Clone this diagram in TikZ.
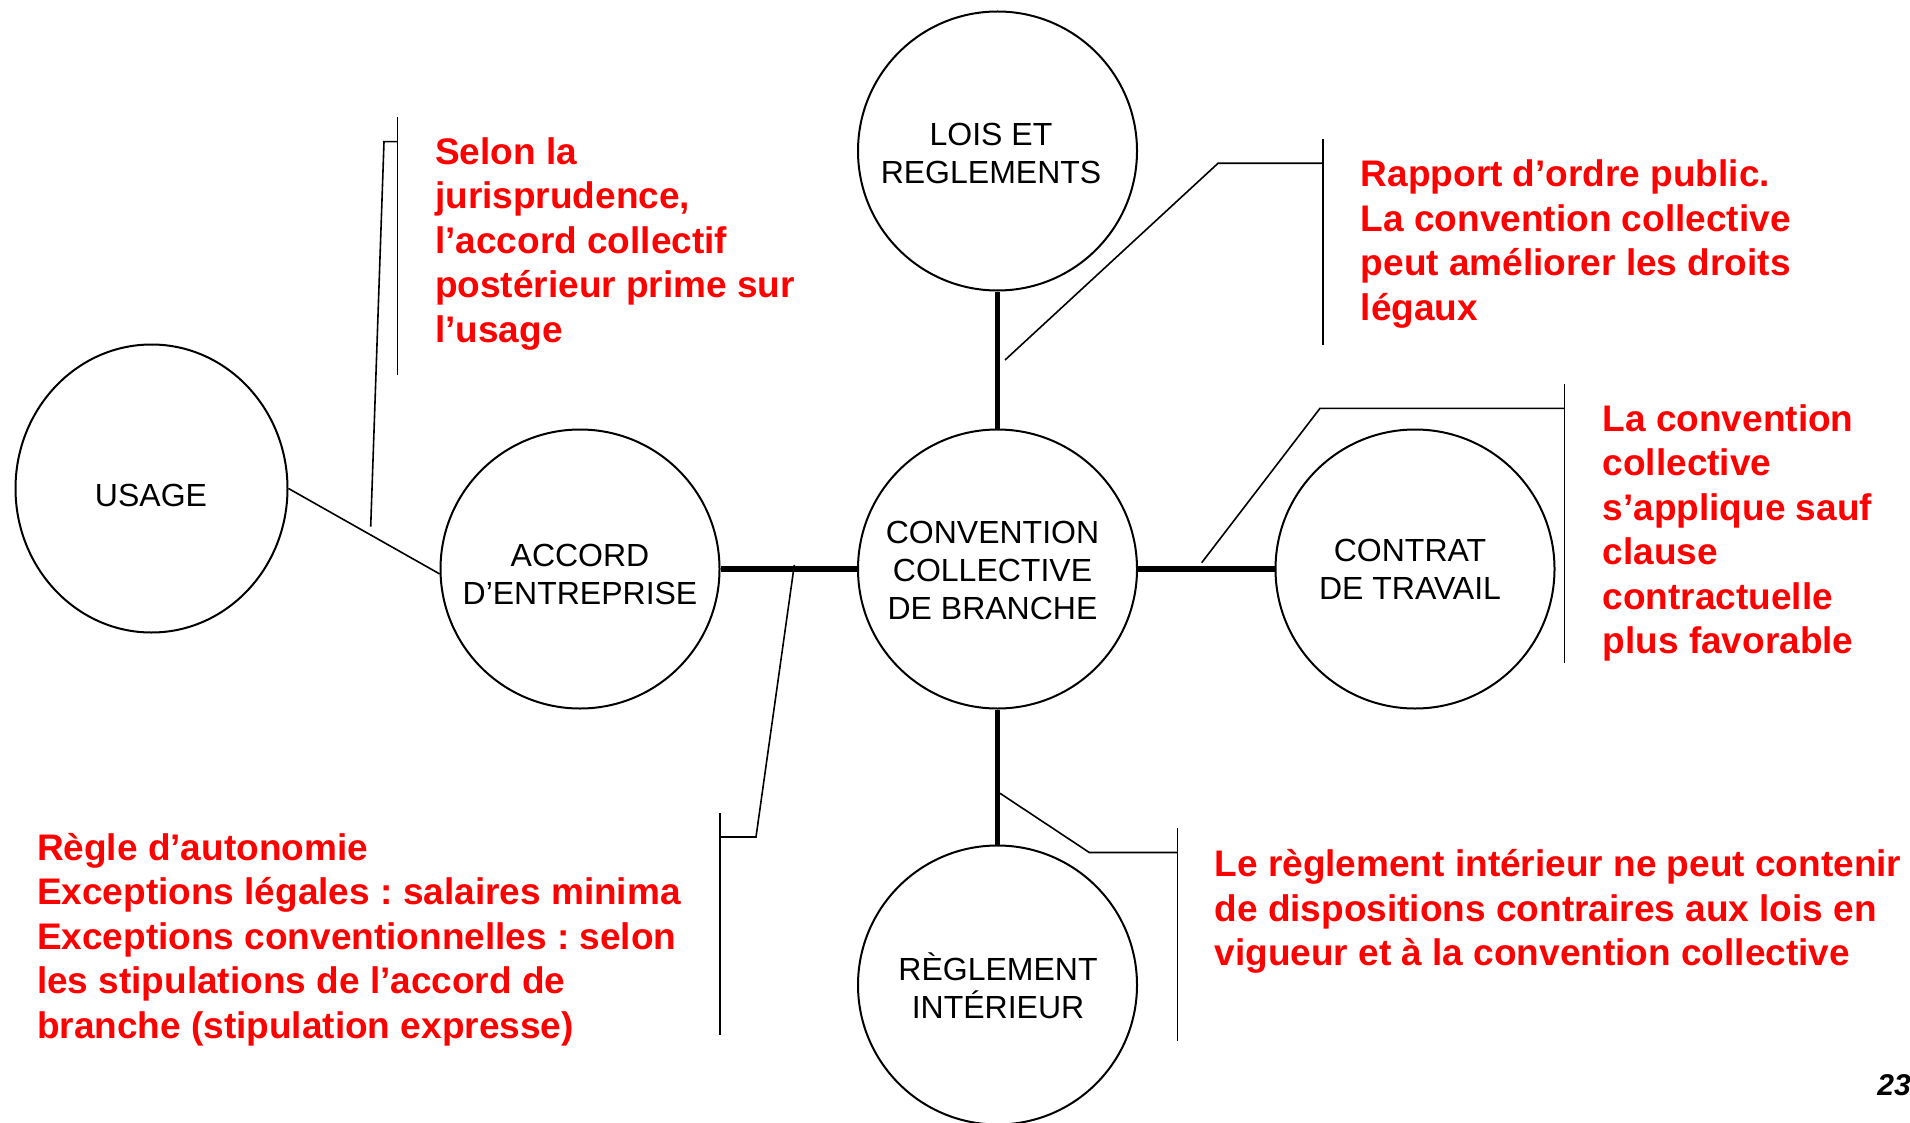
\documentclass[tikz,border=0pt]{standalone}
\usepackage{fontspec}
\setmainfont{Liberation Sans}
\usetikzlibrary{shapes.geometric}
\definecolor{callred}{RGB}{255,0,0}
\frenchspacing
\begin{document}
\begin{tikzpicture}[x=1pt,y=-1pt,
  circ/.style={circle,draw,line width=2pt,minimum size=279pt,inner sep=0pt},
  ctext/.style={anchor=north,inner sep=0pt,align=center,font=\fontsize{32}{38}\selectfont},
  note/.style={anchor=north west,inner sep=0pt,align=left,text=callred,font=\bfseries\fontsize{37}{44.5}\selectfont},
  thickc/.style={line width=5.5pt},
  thinc/.style={line width=1.6pt}]
\useasboundingbox (0,0) rectangle (1910,1123);
\fill[white] (0,0) rectangle (1910,1123);

% circles
\node[circ] (lois) at (997.5,151) {};
\node[circ] (conv) at (997.5,569) {};
\node[circ] (accord) at (580,569) {};
\node[circ] (contrat) at (1415,569) {};
\node[circ] (regl) at (997.5,985) {};
\node[ellipse,draw,line width=2pt,minimum width=272pt,minimum height=288pt,inner sep=0pt] (usage) at (151.5,488.5) {};

% circle texts
\node[ctext] (tlois) at (991,114.7) {\rule{0pt}{31pt}LOIS ET\\REGLEMENTS};
\node[ctext] (tconv) at (992.5,512) {\rule{0pt}{31pt}CONVENTION\\COLLECTIVE\\DE BRANCHE};
\node[ctext] (taccord) at (580,535.7) {\rule{0pt}{31pt}ACCORD\\D’ENTREPRISE};
\node[ctext] (tcontrat) at (1410,530.7) {\rule{0pt}{31pt}CONTRAT\\DE TRAVAIL};
\node[ctext] (tusage) at (151,475.7) {\rule{0pt}{31pt}USAGE};
\node[ctext] (tregl) at (998,949) {\rule{0pt}{31pt}RÈGLEMENT\\INTÉRIEUR};

% thick connectors
\draw[thickc] (lois) -- (conv);
\draw[thickc] (accord) -- (conv);
\draw[thickc] (conv) -- (contrat);
\draw[thickc] (conv) -- (regl);
% thin usage connector
\draw[thinc] (usage.east) -- (accord.182);

% callout coordinates
\coordinate (c1tip) at (370.7,526.7);
\coordinate (c1bend) at (384,141.7);
\coordinate (c1bar) at (397.3,141.7);
\coordinate (c1top) at (397.3,117);
\coordinate (c1bot) at (397.3,375);

\coordinate (c2tip) at (1005,360);
\coordinate (c2bend) at (1218,163.3);
\coordinate (c2bar) at (1322.7,163.3);
\coordinate (c2top) at (1322.7,139);
\coordinate (c2bot) at (1322.7,345);

\coordinate (c3tip) at (1201.7,562.7);
\coordinate (c3bend) at (1320,408.3);
\coordinate (c3bar) at (1564.5,408.3);
\coordinate (c3top) at (1564.5,384);
\coordinate (c3bot) at (1564.5,662.7);

\coordinate (c4tip) at (794.3,565);
\coordinate (c4bend) at (756,837);
\coordinate (c4bar) at (720,837);
\coordinate (c4top) at (720,813.3);
\coordinate (c4bot) at (720,1035);

\coordinate (c5tip) at (1000,793.3);
\coordinate (c5bend) at (1089.3,852.5);
\coordinate (c5bar) at (1177.5,852.5);
\coordinate (c5top) at (1177.5,828.3);
\coordinate (c5bot) at (1177.5,1040.7);

\draw[thinc] (c1tip) -- (c1bend) -- (c1bar);
\draw[thinc] (c1top) -- (c1bot);
\draw[thinc] (c2tip) -- (c2bend) -- (c2bar);
\draw[thinc] (c2top) -- (c2bot);
\draw[thinc] (c3tip) -- (c3bend) -- (c3bar);
\draw[thinc] (c3top) -- (c3bot);
\draw[thinc] (c4tip) -- (c4bend) -- (c4bar);
\draw[thinc] (c4top) -- (c4bot);
\draw[thinc] (c5tip) -- (c5bend) -- (c5bar);
\draw[thinc] (c5top) -- (c5bot);

% red notes
\node[note] (n1) at (435,128) {\rule{0pt}{36pt}Selon la\\jurisprudence,\\l’accord collectif\\postérieur prime sur\\l’usage};
\node[note] (n2) at (1360.7,150.7) {\rule{0pt}{36pt}Rapport d’ordre public.\\La convention collective\\peut améliorer les droits\\légaux};
\node[note] (n3) at (1602.5,395) {\rule{0pt}{36pt}La convention\\collective\\s’applique sauf\\clause\\contractuelle\\plus favorable};
\node[note] (n4) at (36.8,824) {\rule{0pt}{36pt}Règle d’autonomie\\Exceptions légales : salaires minima\\Exceptions conventionnelles : selon\\les stipulations de l’accord de\\branche (stipulation expresse)};
\node[note] (n5) at (1214.4,840.7) {\rule{0pt}{36pt}Le règlement intérieur ne peut contenir\\de dispositions contraires aux lois en\\vigueur et à la convention collective};

% page number
\node[anchor=base east,inner sep=0pt,font=\bfseries\itshape\fontsize{30}{36}\selectfont] (pnum) at (1911,1095) {23};
\end{tikzpicture}
\end{document}
